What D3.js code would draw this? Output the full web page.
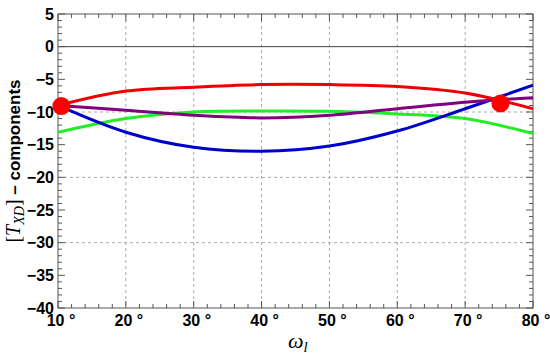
<!DOCTYPE html>
<html>
<head>
<meta charset="utf-8">
<script src="https://cdn.jsdelivr.net/npm/d3@7"></script>
<style>
  body { margin: 0; background: #fff; }
  svg { display: block; }
</style>
</head>
<body>
<div id="chart"></div>
<script>
// curve values, every 10 degrees
const angles = [10, 20, 30, 40, 50, 60, 70, 80];
const redVals = [-9.0, -6.8, -6.2, -5.8, -5.8, -6.1, -7.1, -9.5];
const blueVals = [-9.0, -13.1, -15.4, -16.0, -15.2, -12.9, -9.5, -5.9];
const greenVals = [-13.1, -11.0, -10.0, -9.85, -9.9, -10.3, -11.0, -13.3];
const purpleVals = [-9.0, -9.75, -10.5, -10.9, -10.5, -9.5, -8.5, -7.8];
const dotAngles = [10.5, 75.2];
const dotVals = [-9.1, -8.7];
const xTicks = [10, 20, 30, 40, 50, 60, 70, 80];
const yTicks = [5, 0, -5, -10, -15, -20, -25, -30, -35, -40];
const xGrid = [20, 30, 40, 50, 60, 70];
const yGrid = [-10, -20, -30];

const width = 550, height = 359;
const margin = { top: 14, right: 17, bottom: 51, left: 58 };

const svg = d3.select("#chart").append("svg")
    .attr("width", width)
    .attr("height", height);

const x = d3.scaleLinear().domain([10, 80]).range([margin.left, width - margin.right]);
const y = d3.scaleLinear().domain([-40, 5]).range([height - margin.bottom, margin.top]);

const x0 = x.range()[0], x1 = x.range()[1], y0 = y.range()[0], y1 = y.range()[1];

svg.append("defs").append("clipPath").attr("id", "clip")
  .append("rect").attr("x", x0).attr("y", y1).attr("width", x1 - x0).attr("height", y0 - y1);

// grid
const grid = svg.append("g").attr("id", "grid");
grid.selectAll("line.gx").data(xGrid).join("line")
    .attr("x1", d => x(d)).attr("x2", d => x(d))
    .attr("y1", y1).attr("y2", y0)
    .attr("stroke", "#aaa").attr("stroke-width", 1).attr("stroke-dasharray", "3,3");
grid.selectAll("line.gy").data(yGrid).join("line")
    .attr("x1", x0).attr("x2", x1)
    .attr("y1", d => y(d)).attr("y2", d => y(d))
    .attr("stroke", "#aaa").attr("stroke-width", 1).attr("stroke-dasharray", "3,3");

// zero line
svg.append("line")
    .attr("x1", x0).attr("x2", x1).attr("y1", y(0)).attr("y2", y(0))
    .attr("stroke", "#444").attr("stroke-width", 1);

// frame ticks (inward, on all four sides)
const tickG = svg.append("g").attr("id", "ticks").attr("stroke", "#555").attr("stroke-width", 1);
const xMinor = d3.range(10, 80.01, 2);
const yMinor = d3.range(-40, 5.01, 1);
xMinor.forEach(v => {
  const len = v % 10 === 0 ? 7 : 4;
  tickG.append("line").attr("x1", x(v)).attr("x2", x(v)).attr("y1", y0).attr("y2", y0 - len);
  tickG.append("line").attr("x1", x(v)).attr("x2", x(v)).attr("y1", y1).attr("y2", y1 + len);
});
yMinor.forEach(v => {
  const len = v % 5 === 0 ? 7 : 4;
  tickG.append("line").attr("x1", x0).attr("x2", x0 + len).attr("y1", y(v)).attr("y2", y(v));
  tickG.append("line").attr("x1", x1).attr("x2", x1 - len).attr("y1", y(v)).attr("y2", y(v));
});

// frame
svg.append("rect")
    .attr("x", x0).attr("y", y1).attr("width", x1 - x0).attr("height", y0 - y1)
    .attr("fill", "none").attr("stroke", "#555").attr("stroke-width", 1);

// tick labels
svg.append("g").selectAll("text").data(xTicks).join("text")
    .attr("x", d => x(d) + 3)
    .attr("y", y0 + 18)
    .attr("text-anchor", "middle")
    .attr("font-family", "Liberation Sans, Arial, sans-serif")
    .attr("font-weight", "bold")
    .attr("font-size", 16)
    .text(d => d + " °");

svg.append("g").selectAll("text").data(yTicks).join("text")
    .attr("x", x0 - 4)
    .attr("y", d => y(d))
    .attr("dy", "0.36em")
    .attr("text-anchor", "end")
    .attr("font-family", "Liberation Sans, Arial, sans-serif")
    .attr("font-weight", "bold")
    .attr("font-size", 16)
    .text(d => d < 0 ? "\u2212" + Math.abs(d) : d);

// curves
const line = d3.line()
    .x(d => x(d[0]))
    .y(d => y(d[1]))
    .curve(d3.curveCatmullRom.alpha(0.5));

const series = [
  { vals: greenVals, color: "#22ee22" },
  { vals: blueVals, color: "#0000cc" },
  { vals: purpleVals, color: "#800080" },
  { vals: redVals, color: "#ee0000" }
];

svg.append("g").attr("clip-path", "url(#clip)")
  .selectAll("path").data(series).join("path")
    .attr("d", s => line(angles.map((a, i) => [a, s.vals[i]])))
    .attr("fill", "none")
    .attr("stroke", s => s.color)
    .attr("stroke-width", 3);

// red dots
svg.append("g").selectAll("circle").data(dotAngles).join("circle")
    .attr("cx", d => x(d))
    .attr("cy", (d, i) => y(dotVals[i]))
    .attr("r", 9)
    .attr("fill", "#ff0000");

// axis titles
const xl = svg.append("text")
    .attr("x", 288).attr("y", 348)
    .attr("font-family", "Liberation Serif, Times New Roman, serif")
    .attr("font-style", "italic")
    .attr("font-size", 22);
xl.append("tspan").text("ω");
xl.append("tspan").attr("font-size", 15).attr("dy", 4).text("l");

const yl = svg.append("text")
    .attr("transform", `translate(20,${(y0 + y1) / 2}) rotate(-90)`)
    .attr("text-anchor", "middle")
    .attr("font-size", 20);
yl.append("tspan").attr("font-family", "Liberation Serif, serif").text("[");
yl.append("tspan").attr("font-family", "Liberation Serif, serif").attr("font-style", "italic").text("T");
yl.append("tspan").attr("font-family", "Liberation Serif, serif").attr("font-style", "italic")
    .attr("font-size", 14).attr("dy", 4).text("XD");
yl.append("tspan").attr("font-family", "Liberation Serif, serif").attr("dy", -4).text("]");
yl.append("tspan").attr("font-family", "Liberation Sans, Arial, sans-serif").attr("font-weight", "bold")
    .attr("font-size", 17).text(" \u2013 components");
</script>
</body>
</html>
